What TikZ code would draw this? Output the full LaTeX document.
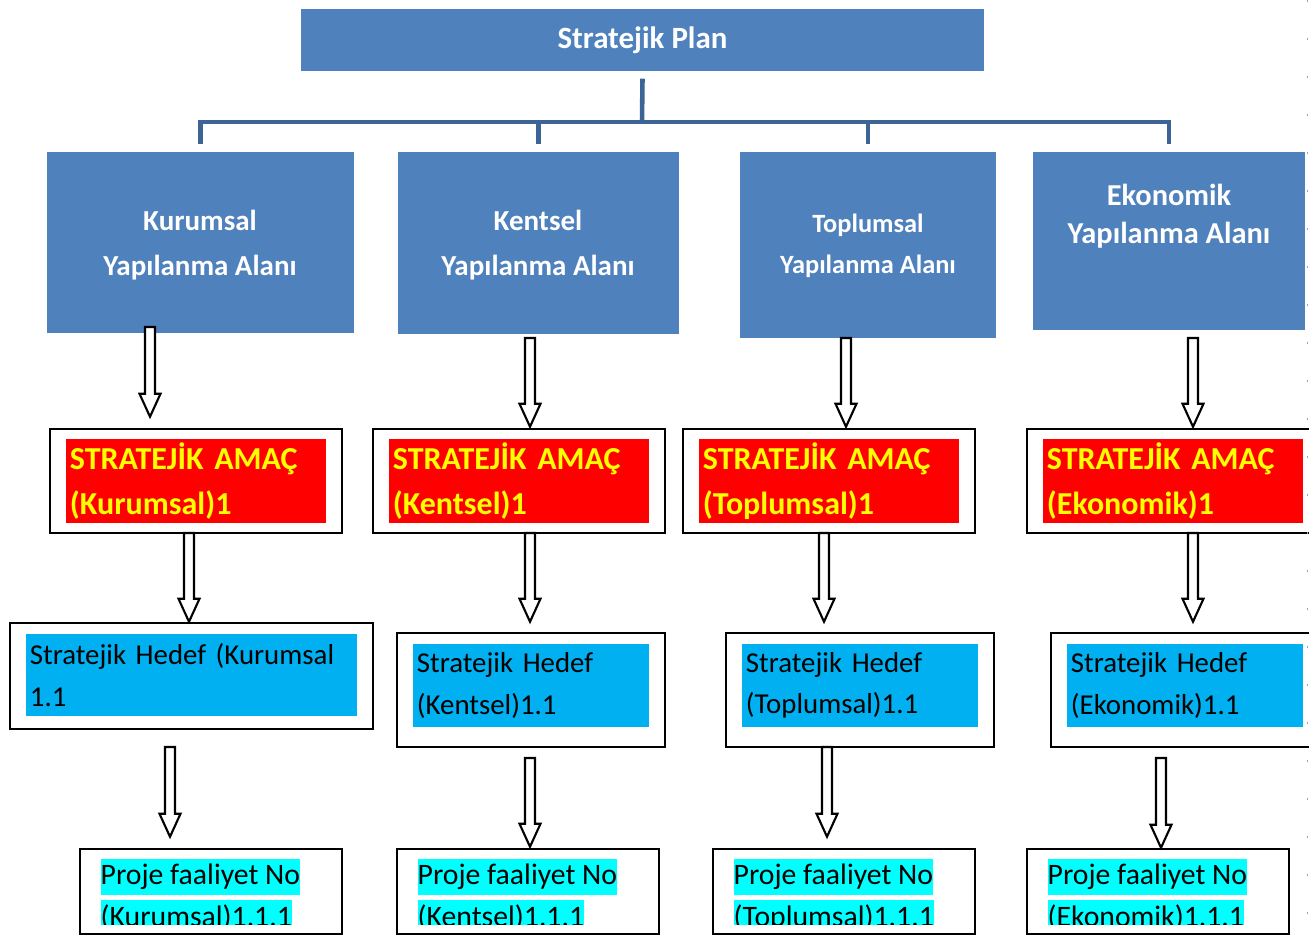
\documentclass[tikz,border=0pt]{standalone}
\usepackage{fontspec}
\setmainfont{Carlito}
\usepackage{tikz}
\usetikzlibrary{calc}

\definecolor{areablue}{HTML}{4F81BD}
\definecolor{busblue}{HTML}{3C6496}
\definecolor{hedefblue}{HTML}{00B0F0}
\definecolor{projecyan}{HTML}{00FFFF}
\definecolor{amacyellow}{HTML}{FFFF00}

\tikzset{
  planbox/.style={fill=areablue, text=white, inner sep=0pt,
    font=\fontsize{8.8}{11}\selectfont\bfseries},
  areabox/.style={fill=areablue, inner sep=0pt},
  areatext/.style={text=white, align=center, inner sep=0pt,
    font=\fontsize{8.25}{12.8}\selectfont\bfseries},
  bus/.style={draw=busblue, line width=1.3pt},
  outerbox/.style={draw=black, line width=0.7pt, fill=white, inner sep=0pt},
  amacfill/.style={fill=red, text=amacyellow, align=left, inner sep=0.04cm,
    font=\fontsize{9.1}{12.8}\selectfont\bfseries},
  hedeffill/.style={fill=hedefblue, text=black, align=left, inner sep=0.04cm,
    font=\fontsize{8.2}{11.7}\selectfont},
  projeline/.style={fill=projecyan, anchor=west, inner xsep=0pt, inner ysep=0pt,
    minimum height=0.36cm, font=\fontsize{8.45}{10}\selectfont},
  pagemark/.style={draw=areablue!70, line width=0.5pt, dash pattern=on 0.6pt off 10.2pt},
  blockarrow/.style={draw=black, fill=white, line width=0.6pt,
    to path={let \p1=(\tikztostart), \p2=(\tikztotarget) in
      (\x1-0.05cm,\y1) -- (\x1+0.05cm,\y1) -- (\x1+0.05cm,\y2+#1+0.23cm)
      -- (\x1+0.105cm,\y2+#1+0.23cm) -- (\x1,\y2+#1)
      -- (\x1-0.105cm,\y2+#1+0.23cm) -- (\x1-0.05cm,\y2+#1+0.23cm) -- cycle}},
  blockarrow/.default=0cm,
}

\begin{document}
\begin{tikzpicture}[x=0.01cm, y=-0.01cm]
    \useasboundingbox (0,0) rectangle (1309,936);
    \clip (0,0) rectangle (1309,936);

    % Top of the plan
    \node[planbox, minimum width=6.83cm, minimum height=0.62cm] (plan) at (642.5,40) {Stratejik Plan};

    % Areas
    \node[areabox, minimum width=3.07cm, minimum height=1.81cm] (kurumsal) at (200.5,242.5) {};
    \node[areabox, minimum width=2.81cm, minimum height=1.82cm] (kentsel) at (538.5,243) {};
    \node[areabox, minimum width=2.56cm, minimum height=1.86cm] (toplumsal) at (868,245) {};
    \node[areabox, minimum width=2.72cm, minimum height=1.78cm] (ekonomik) at (1169,241) {};
    \node[areatext] (kurumsalt) at (200,245) {Kurumsal\\Yapılanma Alanı};
    \node[areatext] (kentselt) at (538,245) {Kentsel\\Yapılanma Alanı};
    \node[areatext, font=\fontsize{7.5}{11.7}\selectfont\bfseries] (toplumsalt) at (868,246) {Toplumsal\\Yapılanma Alanı};
    \node[areatext, font=\fontsize{8.65}{10.8}\selectfont\bfseries] (ekonomikt) at (1169,216) {Ekonomik\\Yapılanma Alanı};

    % Tree lines
    \coordinate (bus) at (642,122);
    \draw[bus] ([yshift=-0.07cm]plan.south) -- (bus);
    \foreach \n in {kurumsal,kentsel,toplumsal,ekonomik}
        \draw[bus] (bus) -| ([yshift=0.07cm]\n.north);

    % Strategic aims
    \foreach \i/\x/\t in {1/196/Kurumsal, 2/519/Kentsel, 3/829/Toplumsal, 4/1173/Ekonomik} {
        \node[outerbox, minimum width=2.92cm, minimum height=1.04cm] (amac\i) at (\x,481) {};
        \node[amacfill, minimum width=2.60cm, minimum height=0.82cm, text width=2.52cm] (amacf\i) at (\x,481)
            {STRATEJİK AMAÇ\\(\t)1};
    }

    % Strategic targets
    \node[outerbox, minimum width=3.63cm, minimum height=1.06cm] (hedef1) at (191.5,676) {};
    \node[hedeffill, minimum width=3.31cm, minimum height=0.82cm, text width=3.23cm] (hedeff1) at (191.5,675)
        {Stratejik Hedef (Kurumsal\\1.1};
    \foreach \i/\x/\t in {2/531/Kentsel, 3/860/Toplumsal, 4/1185/Ekonomik} {
        \node[outerbox, minimum width=2.68cm, minimum height=1.14cm] (hedef\i) at (\x,690) {};
        \node[hedeffill, minimum width=2.36cm, minimum height=0.83cm, text width=2.28cm] (hedeff\i) at (\x,685.5)
            {Stratejik Hedef\\(\t)1.1};
    }

    % Projects
    \foreach \i/\x/\t in {1/211/Kurumsal, 2/528/Kentsel, 3/844/Toplumsal, 4/1158/Ekonomik}
        \node[outerbox, minimum width=2.62cm, minimum height=0.85cm] (proje\i) at (\x,891.5) {};
    \begin{scope}
        \clip (0,0) rectangle (1309,924);
        \foreach \i/\x/\t in {1/100/Kurumsal, 2/417/Kentsel, 3/733/Toplumsal, 4/1047/Ekonomik} {
            \node[projeline] (projea\i) at (\x,877) {Proje faaliyet No};
            \node[projeline] (projeb\i) at (\x,918) {(\t)1.1.1};
        }
    \end{scope}

    % Arrows
    \foreach \n/\x/\y in {s1/150/327, s2/530/338, s3/846/338, s4/1193/338,
                          t1/189/533, t2/530/533, t3/824/533, t4/1193/533,
                          u1/170/747, u2/530/758, u3/827/747, u4/1161/758}
        \coordinate (\n) at (\x,\y);
    \draw[blockarrow=0.11cm] (s1) to (s1 |- amac1.north);
    \draw[blockarrow=0.01cm] (s2) to (s2 |- amac2.north);
    \draw[blockarrow=0.01cm] (s3) to (s3 |- amac3.north);
    \draw[blockarrow=0.01cm] (s4) to (s4 |- amac4.north);
    \draw[blockarrow] (t1) to (t1 |- hedef1.north);
    \draw[blockarrow=0.10cm] (t2) to (t2 |- hedef2.north);
    \draw[blockarrow=0.10cm] (t3) to (t3 |- hedef3.north);
    \draw[blockarrow=0.10cm] (t4) to (t4 |- hedef4.north);
    \draw[blockarrow=0.11cm] (u1) to (u1 |- proje1.north);
    \draw[blockarrow=0.01cm] (u2) to (u2 |- proje2.north);
    \draw[blockarrow=0.11cm] (u3) to (u3 |- proje3.north);
    \draw[blockarrow] (u4) to (u4 |- proje4.north);

    % Page edge
    \draw[pagemark] (1307.5,0) -- (1307.5,936);
\end{tikzpicture}
\end{document}
